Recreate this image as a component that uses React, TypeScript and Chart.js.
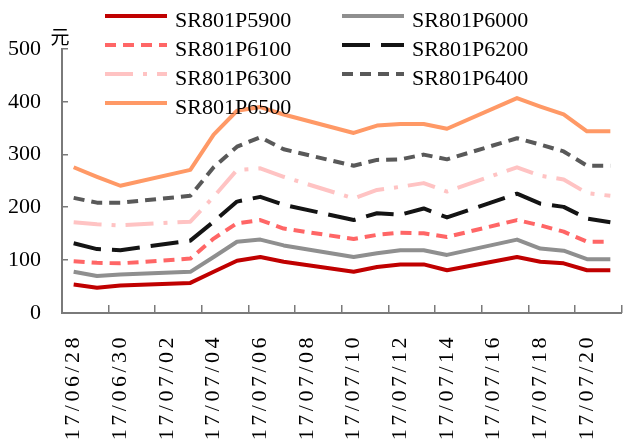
import React, { useEffect, useRef } from 'react';
import { Chart, registerables, CategoryScale } from 'chart.js';

Chart.register(...registerables);

// Trading dates on a daily axis; weekends carry no quote.
const dates = [
  '17/06/28', '17/06/29', '17/06/30', '17/07/01', '17/07/02', '17/07/03',
  '17/07/04', '17/07/05', '17/07/06', '17/07/07', '17/07/08', '17/07/09',
  '17/07/10', '17/07/11', '17/07/12', '17/07/13', '17/07/14', '17/07/15',
  '17/07/16', '17/07/17', '17/07/18', '17/07/19', '17/07/20', '17/07/21',
];

// Option prices (元)
const sr801P5900 = [54, 48, 52, null, null, 57, 78, 99, 106, 97, null, null, 78, 87, 92, 92, 81, null, null, 106, 97, 94, 81, 81];
const sr801P6000 = [78, 70, 73, null, null, 78, 106, 135, 139, 128, null, null, 106, 113, 119, 119, 110, null, null, 139, 122, 118, 102, 102];
const sr801P6100 = [98, 95, 94, null, null, 103, 141, 170, 176, 160, null, null, 140, 148, 152, 151, 144, null, null, 176, 166, 154, 135, 135];
const sr801P6200 = [132, 121, 119, null, null, 137, 173, 211, 220, 205, null, null, 176, 189, 186, 198, 181, null, null, 226, 207, 201, 179, 172];
const sr801P6300 = [172, 168, 166, null, null, 173, 220, 271, 274, 258, null, null, 217, 233, 239, 246, 230, null, null, 276, 260, 253, 227, 222];
const sr801P6400 = [218, 209, 209, null, null, 222, 276, 315, 333, 310, null, null, 279, 290, 291, 300, 291, null, null, 331, 319, 306, 279, 279];
const sr801P6500 = [276, 258, 241, null, null, 271, 338, 383, 390, 376, null, null, 341, 355, 358, 358, 349, null, null, 407, 391, 376, 344, 344];

const seriesNames = ['SR801P5900', 'SR801P6000', 'SR801P6100', 'SR801P6200', 'SR801P6300', 'SR801P6400', 'SR801P6500'];
const yMin = 0;
const yMax = 500;
const yStep = 100;
const unitLabel = '元';

const SERIF = '"Liberation Serif", "Times New Roman", serif';
const AXIS_COLOR = '#7a7a7a';
const X_LETTER_SPACING = '3.5px';
const X_TICK_LEN = 8;
const Y_TICK_LEN = 6;

// Category axis whose tick labels are drawn with extra letter spacing.
class SpacedCategoryScale extends CategoryScale {
  static id = 'spacedCategory';
  static defaults = CategoryScale.defaults;
  drawLabels(chartArea: any) {
    const ctx: any = this.ctx;
    ctx.save();
    ctx.letterSpacing = X_LETTER_SPACING;
    super.drawLabels(chartArea);
    ctx.restore();
  }
}
Chart.register(SpacedCategoryScale);

// Both axis lines, inward tick marks every second day on the date axis,
// and inward tick marks on the value axis.
const axisMarks = {
  id: 'axisMarks',
  afterDraw(chart: any) {
    const ctx = chart.ctx;
    const xs = chart.scales.x;
    const ys = chart.scales.y;
    const left = Math.round(xs.getPixelForValue(-0.5));
    const right = Math.round(xs.getPixelForValue(dates.length - 0.5));
    const base = Math.round(ys.getPixelForValue(yMin));
    const top = Math.round(ys.getPixelForValue(yMax));
    ctx.save();
    ctx.globalAlpha = 1;
    ctx.globalCompositeOperation = 'source-over';
    ctx.fillStyle = AXIS_COLOR;
    // value axis
    ctx.fillRect(left - 1, top - 1, 2, base - top + 2);
    // date axis
    ctx.fillRect(left - 1, base - 1, right - left + 1, 2);
    for (let k = 0; k <= dates.length; k += 2) {
      const px = Math.round(xs.getPixelForValue(k - 0.5));
      ctx.fillRect(px - 1, base - X_TICK_LEN, 1.5, X_TICK_LEN);
    }
    ys.ticks.forEach((t: any) => {
      const py = Math.round(ys.getPixelForValue(t.value));
      ctx.fillRect(left, py - 1, Y_TICK_LEN, 1.5);
    });
    ctx.restore();
  },
};

// Two-column legend laid over the top of the plot, plus the unit label.
const LEGEND_X = [105, 342];
const LEGEND_TOP = 16;
const LEGEND_ROW = 29;
const SAMPLE_LEN = 62;
const TEXT_GAP = 8;

const overlayLegend = {
  id: 'overlayLegend',
  afterDatasetsDraw(chart: any) {
    const ctx = chart.ctx;
    chart.data.datasets.forEach((ds: any, i: number) => {
      const x0 = LEGEND_X[i % 2];
      const y = LEGEND_TOP + Math.floor(i / 2) * LEGEND_ROW;
      ctx.save();
      ctx.strokeStyle = ds.borderColor;
      ctx.lineWidth = ds.borderWidth;
      ctx.lineCap = 'butt';
      ctx.setLineDash(ds.borderDash || []);
      ctx.beginPath();
      ctx.moveTo(x0, y);
      ctx.lineTo(x0 + SAMPLE_LEN, y);
      ctx.stroke();
      ctx.setLineDash([]);
      ctx.fillStyle = '#000';
      ctx.font = `22px ${SERIF}`;
      ctx.textAlign = 'left';
      ctx.textBaseline = 'alphabetic';
      ctx.fillText(ds.label, x0 + SAMPLE_LEN + TEXT_GAP, y + 10.5);
      ctx.restore();
    });
    const area = chart.chartArea;
    ctx.save();
    ctx.fillStyle = '#000';
    ctx.font = '19px "Noto Sans CJK SC", sans-serif';
    ctx.textAlign = 'center';
    ctx.textBaseline = 'middle';
    ctx.fillText(unitLabel, area.left - 2, area.top - 12);
    ctx.restore();
  },
};

const styles = [
  { color: '#c00000', dash: [] as number[] },
  { color: '#8f8f8f', dash: [] as number[] },
  { color: '#ff6666', dash: [11, 7] },
  { color: '#141414', dash: [28, 11] },
  { color: '#ffc3c3', dash: [28, 10, 4, 10] },
  { color: '#595959', dash: [11, 7] },
  { color: '#ff9966', dash: [] as number[] },
];

export default function App() {
  const canvasRef = useRef<HTMLCanvasElement | null>(null);

  useEffect(() => {
    if (!canvasRef.current) return;
    const values = [sr801P5900, sr801P6000, sr801P6100, sr801P6200, sr801P6300, sr801P6400, sr801P6500];
    const chart = new Chart(canvasRef.current, {
      type: 'line',
      data: {
        labels: dates,
        datasets: values.map((data, i) => ({
          label: seriesNames[i],
          data,
          borderColor: styles[i].color,
          backgroundColor: styles[i].color,
          borderDash: styles[i].dash,
          borderWidth: 4,
          borderCapStyle: 'butt',
          borderJoinStyle: 'round',
          pointRadius: 0,
          pointHoverRadius: 0,
          tension: 0,
          spanGaps: true,
          fill: false,
        })),
      },
      options: {
        animation: false,
        responsive: true,
        maintainAspectRatio: false,
        layout: { padding: { top: 49, right: 2, bottom: 0, left: 0 } },
        plugins: {
          legend: { display: false },
          tooltip: { enabled: false },
        },
        scales: {
          x: {
            type: 'spacedCategory' as any,
            offset: true,
            grid: { offset: true, drawOnChartArea: false, drawTicks: false },
            border: { display: false },
            ticks: {
              autoSkip: false,
              minRotation: 90,
              maxRotation: 90,
              padding: 21,
              color: '#000',
              font: { family: SERIF, size: 22 },
              callback: function (this: any, value: any, index: number) {
                return index % 2 === 0 ? this.getLabelForValue(value) : '';
              },
            },
            afterFit: (scale: any) => {
              scale.height = 126;
              scale.paddingLeft = 0;
              scale.paddingRight = 0;
            },
          },
          y: {
            min: yMin,
            max: yMax,
            grid: { drawOnChartArea: false, drawTicks: false },
            border: { display: false },
            ticks: {
              stepSize: yStep,
              padding: 21,
              color: '#000',
              font: { family: SERIF, size: 22 },
            },
            afterFit: (scale: any) => {
              scale.width = 62;
              scale.paddingTop = 0;
              scale.paddingBottom = 0;
            },
          },
        },
      },
      plugins: [overlayLegend, axisMarks],
    });
    return () => chart.destroy();
  }, []);

  return (
    <div style={{ position: 'absolute', left: 0, top: 0, width: 624, height: 439, background: '#fff' }}>
      <canvas ref={canvasRef} />
    </div>
  );
}
